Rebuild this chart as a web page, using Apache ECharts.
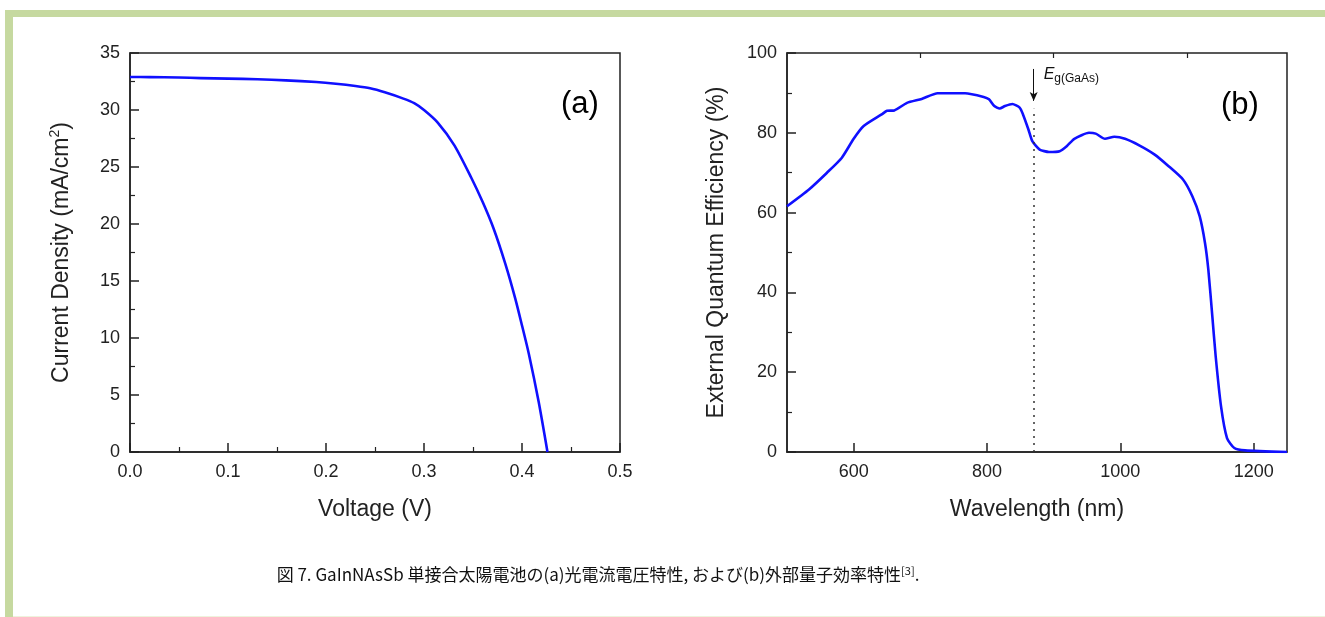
<!DOCTYPE html>
<html>
<head>
<meta charset="utf-8">
<script src="https://cdn.jsdelivr.net/npm/echarts@6/dist/echarts.min.js"></script>
<style>
  html, body { margin: 0; padding: 0; background: #fff; }
  .frame-top { position: absolute; left: 5px; top: 10px; width: 1320px; height: 7px; background: #c6d9a0; }
  .frame-left { position: absolute; left: 5px; top: 10px; width: 8px; height: 607px; background: #c6d9a0; }
  .frame-bottom { position: absolute; left: 13px; top: 616px; width: 1312px; height: 1px; background: #eef3dc; }
  .echarts_main { position: absolute; left: 0; top: 0; width: 1325px; height: 617px; }
</style>
</head>
<body>
<div class="echarts_main"></div>
<div class="frame-top"></div>
<div class="frame-left"></div>
<div class="frame-bottom"></div>
<script>
// (a) J-V curve
var voltage = [0, 0.02, 0.05, 0.072, 0.1, 0.13, 0.159, 0.19, 0.21, 0.23, 0.245, 0.26, 0.279, 0.29, 0.30,
   0.314, 0.331, 0.348, 0.36, 0.371, 0.383, 0.393, 0.40, 0.407, 0.417, 0.426];
var currentDensity = [32.9, 32.88, 32.85, 32.8, 32.75, 32.7, 32.6, 32.45, 32.3, 32.1, 31.9, 31.55, 31.0, 30.6, 30.0,
   28.9, 26.9, 24.1, 21.9, 19.6, 16.5, 13.5, 11.1, 8.6, 4.4, 0];

// (b) EQE spectrum
var wavelength = [500, 533, 560, 582, 600, 615, 642, 650, 661, 680, 702, 726, 767, 795, 803, 811, 819, 827, 838,
   849, 854, 862, 868, 879, 893, 909, 920, 931, 953, 963, 977, 991, 1007, 1029, 1051, 1072, 1094, 1108, 1119,
   1127, 1132, 1138, 1143, 1151, 1160, 1171, 1187, 1250];
var eqe = [61.6, 65.8, 70.0, 73.7, 78.5, 81.7, 84.6, 85.5, 85.6, 87.5, 88.5, 89.9, 89.9, 89.0, 88.4, 86.7, 86.1,
   86.7, 87.2, 86.3, 84.6, 80.9, 77.9, 75.8, 75.2, 75.4, 76.7, 78.5, 80.0, 79.8, 78.5, 79.0, 78.5, 76.8, 74.6,
   71.7, 68.3, 64.1, 59.1, 52.4, 45.7, 34.0, 24.0, 11.5, 3.5, 1.0, 0.4, 0];

// tick labels
var wavelengthTicks = [600, 800, 1000, 1200];
var wavelengthMinor = [700, 900, 1100];
var egGaAs = 870;

var chart = echarts.init(document.querySelector('.echarts_main'));

var ink = '#222';
var font = '"Liberation Sans", Arial, sans-serif';

function valueAxis(extra) {
   var base = {
      type: 'value',
      axisLine: { show: true, lineStyle: { color: ink, width: 1.5 } },
      axisTick: { show: true, inside: true, length: 9, lineStyle: { color: ink, width: 1.5 } },
      minorTick: { show: true, splitNumber: 2, length: 5, lineStyle: { color: ink, width: 1.2 } },
      splitLine: { show: false },
      axisLabel: { color: ink, fontSize: 18, fontFamily: font, margin: 10 },
      nameLocation: 'middle',
      nameTextStyle: { color: ink, fontSize: 23, fontFamily: font }
   };
   return Object.assign(base, extra);
}

var jData = voltage.map(function (v, i) { return [v, currentDensity[i]]; });
var qData = wavelength.map(function (w, i) { return [w, eqe[i]]; });

var option = {
   animation: false,
   title: [
      { text: '(a)', left: 556, top: 84, textStyle: { fontSize: 31, fontWeight: 'normal', color: '#000', fontFamily: font } },
      { text: '(b)', left: 1216, top: 85, textStyle: { fontSize: 31, fontWeight: 'normal', color: '#000', fontFamily: font } }
   ],
   grid: [
      { left: 130, top: 53, width: 490, height: 399, show: true, borderColor: ink, borderWidth: 1.5 },
      { left: 787, top: 53, width: 500, height: 399, show: true, borderColor: ink, borderWidth: 1.5 }
   ],
   xAxis: [
      valueAxis({
         gridIndex: 0, min: 0, max: 0.5, interval: 0.1,
         name: 'Voltage (V)', nameGap: 46,
         axisLabel: { color: ink, fontSize: 18, fontFamily: font, margin: 11,
            formatter: function (v) { return v.toFixed(1); } }
      }),
      valueAxis({
         gridIndex: 1, min: 500, max: 1250,
         name: 'Wavelength (nm)', nameGap: 46,
         minorTick: { show: false },
         axisTick: { show: true, inside: true, length: 9, customValues: wavelengthTicks, lineStyle: { color: ink, width: 1.5 } },
         axisLabel: { color: ink, fontSize: 18, fontFamily: font, margin: 11, customValues: wavelengthTicks,
            formatter: function (v) { return String(v); } }
      }),
      // minor ticks for the wavelength axis
      valueAxis({
         gridIndex: 1, min: 500, max: 1250,
         axisLine: { show: false },
         minorTick: { show: false },
         axisTick: { show: true, inside: true, length: 5, customValues: wavelengthMinor, lineStyle: { color: ink, width: 1.2 } },
         axisLabel: { show: false }
      })
   ],
   yAxis: [
      valueAxis({
         gridIndex: 0, min: 0, max: 35, interval: 5,
         name: 'Current Density (mA/cm{sup|2})', nameGap: 55,
         nameTextStyle: { color: ink, fontSize: 23, fontFamily: font, lineHeight: 27,
            rich: { sup: { fontSize: 14, fontFamily: font, color: ink, verticalAlign: 'top', lineHeight: 14 } } }
      }),
      valueAxis({
         gridIndex: 1, min: 0, max: 100, interval: 20,
         name: 'External Quantum Efficiency (%)', nameGap: 59
      })
   ],
   series: [
      {
         type: 'line', xAxisIndex: 0, yAxisIndex: 0,
         data: jData, showSymbol: false, smooth: 0.25,
         lineStyle: { color: '#1010ff', width: 2.6, join: 'round' }
      },
      {
         type: 'line', xAxisIndex: 1, yAxisIndex: 1,
         data: qData, showSymbol: false, smooth: 0.2,
         lineStyle: { color: '#1010ff', width: 2.6, join: 'round' },
         markLine: {
            silent: true,
            symbol: 'none',
            label: { show: false },
            data: [
               [{ coord: [egGaAs, 0], lineStyle: { type: [2, 5], color: '#333', width: 1.5 } }, { coord: [egGaAs, 86] }],
               [{ coord: [egGaAs, 96], symbol: 'none', lineStyle: { type: 'solid', color: '#111', width: 1 } },
                { coord: [egGaAs, 88], symbol: 'arrow', symbolSize: [6, 9] }]
            ]
         },
         markPoint: {
            silent: true,
            symbol: 'circle', symbolSize: 0,
            data: [{ coord: [egGaAs, 94.5] }],
            label: {
               show: true, position: 'right', distance: 10,
               formatter: '{e|E}{s|g(GaAs)}',
               rich: {
                  e: { fontSize: 16, fontStyle: 'italic', fontFamily: font, color: '#111' },
                  s: { fontSize: 12, fontFamily: font, color: '#111', padding: [7, 0, 0, 0] }
               }
            }
         }
      }
   ],
   graphic: [{
      type: 'text',
      x: 598, y: 575,
      style: {
         text: '図 7. GaInNAsSb 単接合太陽電池の(a)光電流電圧特性, および(b)外部量子効率特性{sup|[3]}.',
         align: 'center', verticalAlign: 'middle',
         fontSize: 17, fontFamily: '"Noto Sans CJK JP", sans-serif', fill: '#111',
         rich: {
            sup: { fontSize: 11, fontFamily: '"Noto Sans CJK JP", sans-serif', fill: '#111', padding: [0, 0, 9, 0] }
         }
      }
   }]
};

chart.setOption(option);
</script>
</body>
</html>
